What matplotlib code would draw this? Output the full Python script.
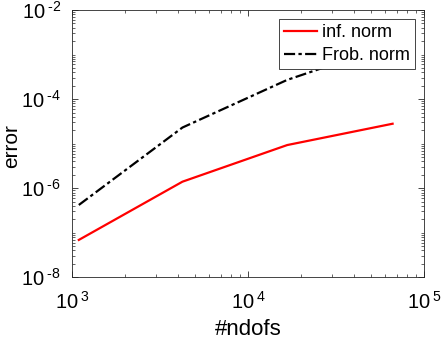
import numpy as np
import matplotlib
matplotlib.use("Agg")
import matplotlib.pyplot as plt
from matplotlib.ticker import LogLocator, FixedLocator, FuncFormatter, NullFormatter

plt.rcParams["font.family"] = "Liberation Sans"
plt.rcParams["mathtext.fontset"] = "custom"
plt.rcParams["mathtext.rm"] = "Liberation Sans"
plt.rcParams["mathtext.it"] = "Liberation Sans"
plt.rcParams["mathtext.default"] = "regular"

# data
ndofs = [1089, 4225, 16641, 66049]
inf_norm = [6.9e-8, 1.4e-6, 9.3e-6, 2.8e-5]
frob_norm = [4.2e-7, 2.3e-5, 2.7e-4, 1.7e-3]

xticks = [1e3, 1e4, 1e5]
yticks = [1e-8, 1e-6, 1e-4, 1e-2]

axcol = "#262626"


def pow10(v, pos):
    e = int(round(np.log10(v)))
    s = str(e).replace("-", "\u2010")
    return r"$10^{\;%s}$" % s


fig = plt.figure(figsize=(4.41, 3.39), dpi=100)
ax = fig.add_axes([72.3 / 441, 1 - 277.3 / 339, 352 / 441, 267.3 / 339])

ax.loglog(ndofs, inf_norm, color="red", lw=1.6, label="inf. norm")
ax.loglog(ndofs, frob_norm, color="black", lw=1.6, linestyle=(0, (5, 1.5, 1.5, 1.5)),
          label="Frob. norm")

ax.set_xlim(1e3, 1e5)
ax.set_ylim(1e-8, 1e-2)
ax.xaxis.set_major_locator(FixedLocator(xticks))
ax.yaxis.set_major_locator(FixedLocator(yticks))
ax.xaxis.set_major_formatter(FuncFormatter(pow10))
ax.yaxis.set_major_formatter(FuncFormatter(pow10))
ax.xaxis.set_minor_locator(LogLocator(base=10, subs=np.arange(2, 10), numticks=20))
ax.yaxis.set_minor_locator(LogLocator(base=10, subs=np.arange(1, 10), numticks=20))
ax.xaxis.set_minor_formatter(NullFormatter())
ax.yaxis.set_minor_formatter(NullFormatter())

ax.tick_params(which="both", direction="in", top=True, right=True, colors=axcol,
               labelcolor="black", labelsize=14.5)
ax.tick_params(which="major", length=4, width=0.6)
ax.tick_params(which="minor", length=2, width=0.5)
ax.tick_params(axis="x", which="major", pad=10)
ax.tick_params(axis="y", which="major", pad=8)
for s in ax.spines.values():
    s.set_color(axcol)
    s.set_linewidth(0.6)

ax.set_xlabel("#ndofs", fontsize=16, labelpad=4)
ax.set_ylabel("error", fontsize=15)
ax.yaxis.set_label_coords((21 - 72.3) / 352, 0.49)

leg = ax.legend(loc="upper right", fontsize=13, fancybox=False, framealpha=1,
                edgecolor=axcol, handlelength=1.8, handletextpad=0.3,
                borderpad=0.3, labelspacing=0.3, borderaxespad=0.5)
leg.get_frame().set_linewidth(0.6)

fig.savefig("out.png", dpi=100)
